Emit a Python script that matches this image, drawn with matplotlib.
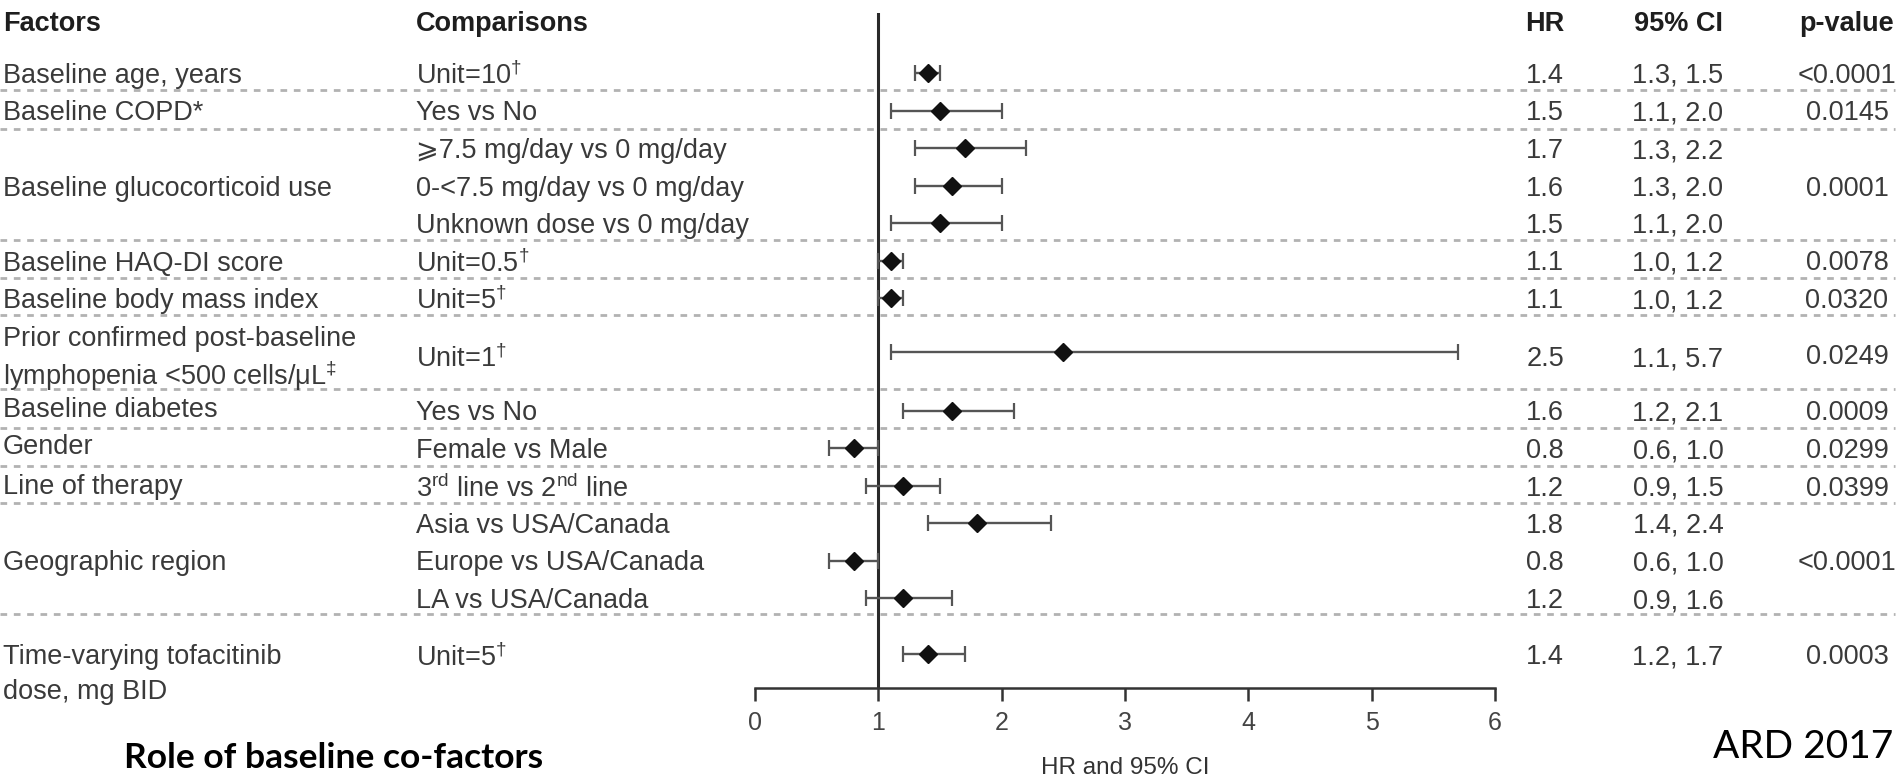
import matplotlib
matplotlib.use("Agg")
import matplotlib.pyplot as plt

# ---------------- data ----------------
factor_labels = ["Baseline age, years", "Baseline COPD*", "Baseline glucocorticoid use",
                 "Baseline HAQ-DI score", "Baseline body mass index",
                 "Prior confirmed post-baseline", "lymphopenia <500 cells/μL$^{\\ddagger}$",
                 "Baseline diabetes", "Gender", "Line of therapy", "Geographic region",
                 "Time-varying tofacitinib", "dose, mg BID"]
comparisons = ["Unit=10$^{\\dagger}$", "Yes vs No", "⩾7.5 mg/day vs 0 mg/day",
               "0-<7.5 mg/day vs 0 mg/day", "Unknown dose vs 0 mg/day",
               "Unit=0.5$^{\\dagger}$", "Unit=5$^{\\dagger}$", "Unit=1$^{\\dagger}$",
               "Yes vs No", "Female vs Male", "3$^{\\rm rd}$ line vs 2$^{\\rm nd}$ line",
               "Asia vs USA/Canada", "Europe vs USA/Canada", "LA vs USA/Canada",
               "Unit=5$^{\\dagger}$"]
hr = [1.4, 1.5, 1.7, 1.6, 1.5, 1.1, 1.1, 2.5, 1.6, 0.8, 1.2, 1.8, 0.8, 1.2, 1.4]
ci_low = [1.3, 1.1, 1.3, 1.3, 1.1, 1.0, 1.0, 1.1, 1.2, 0.6, 0.9, 1.4, 0.6, 0.9, 1.2]
ci_high = [1.5, 2.0, 2.2, 2.0, 2.0, 1.2, 1.2, 5.7, 2.1, 1.0, 1.5, 2.4, 1.0, 1.6, 1.7]
p_values = ["<0.0001", "0.0145", "0.0001", "0.0078", "0.0320", "0.0249",
            "0.0009", "0.0299", "0.0399", "<0.0001", "0.0003"]
x_ticks = [0, 1, 2, 3, 4, 5, 6]

# ---------------- layout (row units) ----------------
row_pos = [0, 1, 2, 3, 4, 5, 6, 7.45, 9, 10, 11, 12, 13, 14, 15.5]
comp_pos = [0, 1, 2, 3, 4, 5, 6, 7.55, 9, 10, 11, 12, 13, 14, 15.5]
factor_pos = [0, 1, 3, 5, 6, 7.0, 7.97, 8.9, 9.9, 10.95, 13, 15.5, 16.43]
p_pos = [0, 1, 3, 5, 6, 7.5, 9, 10, 11, 13, 15.5]
sep_pos = [0.45, 1.5, 4.45, 5.47, 6.45, 8.42, 9.46, 10.48, 11.47, 14.43]

W, H = 1901, 776
ROW0, ROWH = 73.0, 37.5


def k(ypx):
    return (ypx - ROW0) / ROWH


plt.rcParams['font.family'] = ['Liberation Sans', 'DejaVu Sans']
plt.rcParams['mathtext.fontset'] = 'custom'
plt.rcParams['mathtext.rm'] = 'Liberation Sans'
plt.rcParams['mathtext.it'] = 'Liberation Sans:italic'
plt.rcParams['mathtext.bf'] = 'Liberation Sans:bold'
plt.rcParams['lines.scale_dashes'] = False

TXT = '#3a3a3a'
HDR = '#1e1e1e'
FS = 19.5

fig = plt.figure(figsize=(W / 100, H / 100), dpi=100)

# background axes covering the whole figure (pixel x, row-unit y)
bg = fig.add_axes([0, 0, 1, 1])
bg.set_xlim(0, W)
bg.set_ylim(k(H), k(0))
bg.axis('off')

for s in sep_pos:
    bg.axhline(s, xmin=0, xmax=1895 / W, color='#b2b2b2', lw=2.0, dashes=(4.8, 4.8), zorder=1)

# headers
hy = k(21)
bg.text(3, hy, "Factors", fontsize=FS, fontweight='bold', color=HDR, va='center_baseline', ha='left')
bg.text(416, hy, "Comparisons", fontsize=FS, fontweight='bold', color=HDR, va='center_baseline', ha='left')
bg.text(1545, hy, "HR", fontsize=FS, fontweight='bold', color=HDR, va='center_baseline', ha='center')
bg.text(1678, hy, "95% CI", fontsize=FS, fontweight='bold', color=HDR, va='center_baseline', ha='center')
bg.text(1847, hy, "p-value", fontsize=FS, fontweight='bold', color=HDR, va='center_baseline', ha='center')

for lab, y in zip(factor_labels, factor_pos):
    bg.text(3, y, lab, fontsize=FS, color=TXT, va='center_baseline', ha='left')
for lab, y in zip(comparisons, comp_pos):
    bg.text(416, y, lab, fontsize=FS, color=TXT, va='center_baseline', ha='left')
for h, lo, hi, y in zip(hr, ci_low, ci_high, comp_pos):
    bg.text(1545, y, f"{h:.1f}", fontsize=FS, color=TXT, va='center_baseline', ha='center')
    bg.text(1678, y, f"{lo:.1f}, {hi:.1f}", fontsize=FS, color=TXT, va='center_baseline', ha='center')
for p, y in zip(p_values, p_pos):
    bg.text(1847, y, p, fontsize=FS, color=TXT, va='center_baseline', ha='center')

# slide annotations
bg.text(124, k(768), "Role of baseline co-factors", fontsize=25.5, fontweight='bold',
        family=['Lato', 'DejaVu Sans'], color='black', ha='left', va='baseline')
bg.text(1893, k(758), "ARD 2017", fontsize=28, family=['Lato', 'DejaVu Sans'],
        color='black', ha='right', va='baseline')

# forest plot axes
X0, X6, TOP, AXY = 755, 1495, 13, 688
fax = fig.add_axes([X0 / W, (H - AXY) / H, (X6 - X0) / W, (AXY - TOP) / H])
fax.set_xlim(x_ticks[0], x_ticks[-1])
fax.set_ylim(k(AXY), k(TOP))
fax.patch.set_alpha(0)
for sp in ['top', 'right', 'left']:
    fax.spines[sp].set_visible(False)
fax.spines['bottom'].set_color('#333333')
fax.spines['bottom'].set_linewidth(1.8)
fax.set_xticks(x_ticks)
fax.set_xticklabels([str(t) for t in x_ticks])
fax.set_yticks([])
fax.tick_params(axis='x', direction='out', length=9.5, width=1.8, color='#333333',
                labelsize=18, labelcolor='#444444', pad=7)
fax.axvline(1, color='#2a2a2a', lw=2.2, zorder=2)

xerr = [[h - lo for h, lo in zip(hr, ci_low)], [hi - h for h, hi in zip(hr, ci_high)]]
fax.errorbar(hr, row_pos, xerr=xerr, fmt='D', ms=9.5, mfc='#111111', mec='#111111',
             ecolor='#555555', elinewidth=1.7, capsize=6, capthick=1.6, zorder=3)

fax.set_xlabel("HR and 95% CI", fontsize=17.5, color='#333333', va='top')
fax.xaxis.set_label_coords(0.5, -(757 - AXY) / (AXY - TOP))

fig.savefig("out.png", dpi=100)
